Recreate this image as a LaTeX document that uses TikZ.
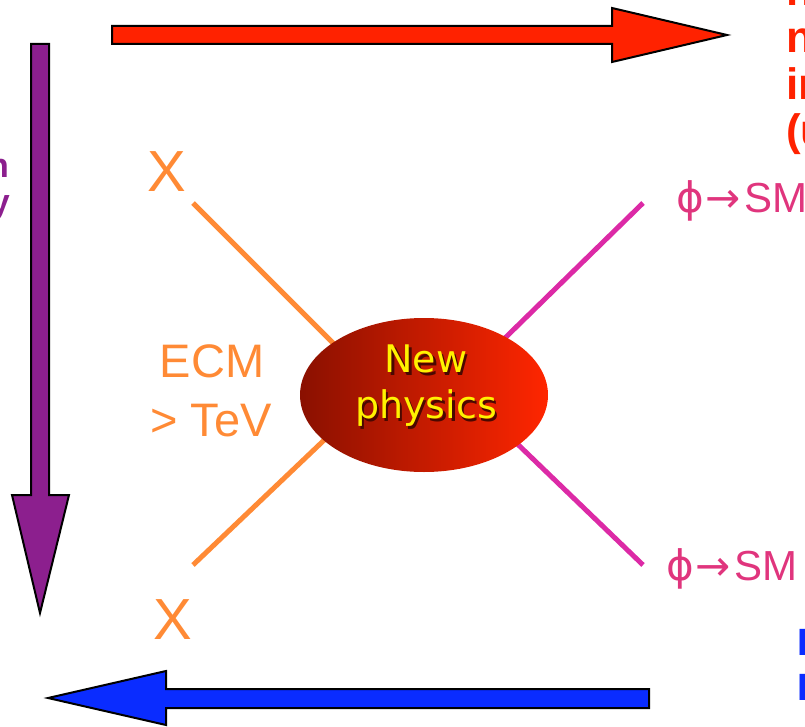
\documentclass[tikz,border=0pt]{standalone}
\usepackage{fontspec}
\setmainfont{Liberation Sans}
\newfontfamily\verdana{DejaVu Sans}
\usetikzlibrary{shapes.geometric, positioning}

\definecolor{arrred}{HTML}{FF2200}
\definecolor{arrpurple}{HTML}{8C1F8E}
\definecolor{arrblue}{HTML}{0A2CFF}
\definecolor{legorange}{HTML}{FF8A35}
\definecolor{legmagenta}{HTML}{DC2AA6}
\definecolor{smpink}{HTML}{E0357D}
\definecolor{npdark}{HTML}{8A1000}
\definecolor{npred}{HTML}{FF2600}
\definecolor{npshadow}{HTML}{4A0800}

% text with a dark drop shadow
\newcommand{\shadowed}[1]{\leavevmode\rlap{\kern2.5pt\raisebox{-2.5pt}{\textcolor{npshadow}{#1}}}#1}
\newcommand{\phisym}{{\verdana ϕ\kern2pt→}\kern3pt SM}

\begin{document}
\begin{tikzpicture}[x=1pt, y=-1pt,
    blockarr/.style={draw=black, line width=2pt, line join=miter},
    orleg/.style={draw=legorange, line width=5pt},
    mgleg/.style={draw=legmagenta, line width=5pt},
    bigx/.style={text=legorange, font=\fontsize{58}{58}\selectfont, inner sep=0pt},
    ecmtext/.style={text=legorange, font=\fontsize{47}{47}\selectfont, inner sep=0pt},
    smtext/.style={text=smpink, font=\fontsize{42}{42}\selectfont, inner sep=0pt},
    nptext/.style={font=\verdana\fontsize{38}{46}\selectfont, text=yellow, align=center, inner sep=0pt},
    edgetext/.style={font=\bfseries\fontsize{44}{44}\selectfont, inner sep=0pt}]
  \useasboundingbox (0,0) rectangle (805,727);
  \clip (0,0) rectangle (805,727);

  % big arrows round the frame
  \filldraw[blockarr, fill=arrred] (112,26) -- (612,26) -- (612,8) -- (727,35)
    -- (612,62) -- (612,44) -- (112,44) -- cycle;
  \filldraw[blockarr, fill=arrpurple] (31,44) -- (49,44) -- (49,495) -- (69,495)
    -- (40,613) -- (12,495) -- (31,495) -- cycle;
  \filldraw[blockarr, fill=arrblue] (649,689) -- (166,689) -- (166,671) -- (48,698)
    -- (166,725) -- (166,708) -- (649,708) -- cycle;

  % text cut by the frame
  \node[edgetext, text=arrred, anchor=base west] (r1) at (786,6) {n};
  \node[edgetext, text=arrred, anchor=base west] (r2) at (786,53) {n};
  \node[edgetext, text=arrred, anchor=base west] (r3) at (786,100) {in};
  \node[edgetext, text=arrred, anchor=base west] (r4) at (786,146) {(u};
  \node[edgetext, text=arrpurple, font=\bfseries\fontsize{34}{34}\selectfont, anchor=base east] (p1) at (9,178) {n};
  \node[edgetext, text=arrpurple, font=\bfseries\fontsize{34}{34}\selectfont, anchor=base east] (p2) at (10,214) {y};
  \node[edgetext, text=arrblue, font=\bfseries\fontsize{38}{38}\selectfont, anchor=base west] (b1) at (797.5,655) {I};
  \node[edgetext, text=arrblue, font=\bfseries\fontsize{38}{38}\selectfont, anchor=base west] (b2) at (797.5,700) {I};

  % incoming and outgoing legs
  \node[bigx] (xtop) at (167,172) {X};
  \node[bigx] (xbot) at (173,620) {X};
  \coordinate (ina) at (193,203);
  \coordinate (inb) at (193,565);
  \coordinate (outa) at (643,203);
  \coordinate (outb) at (643,565);
  \coordinate (ca) at (340,350);
  \coordinate (cb) at (340,425);
  \coordinate (cc) at (505,338);
  \coordinate (cd) at (505,432);
  \draw[orleg] (ina) -- (ca);
  \draw[orleg] (inb) -- (cb);
  \draw[mgleg] (outa) -- (cc);
  \draw[mgleg] (outb) -- (cd);

  \node[ellipse, minimum width=248pt, minimum height=154pt, left color=npdark, right color=npred] (np) at (424,395) {};
  \node[nptext] (nplabel) at (426,387) {\shadowed{New}\\\shadowed{physics}};

  \node[ecmtext, anchor=base] (ecm) at (212,377) {ECM};
  \node[ecmtext, anchor=base] (tev) at (211,436) {> TeV};

  \node[smtext, anchor=base west] (smtop) at (676,213) {\phisym};
  \node[smtext, anchor=base west] (smbot) at (666,580) {\phisym};
\end{tikzpicture}
\end{document}
